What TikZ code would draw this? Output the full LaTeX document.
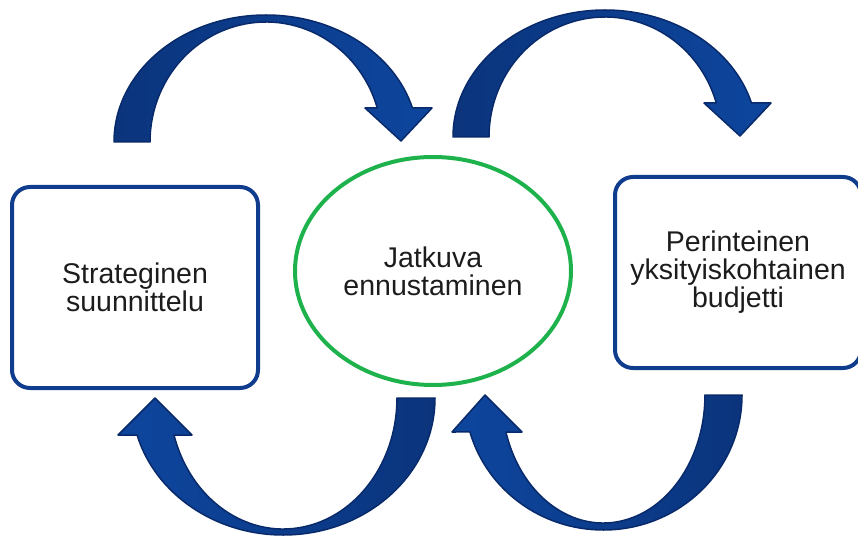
\documentclass[tikz,border=0pt]{standalone}
\usepackage{fontspec}
\setmainfont{Liberation Sans}
\usepackage{xcolor}
\usetikzlibrary{positioning,shapes.geometric}

\definecolor{sininen}{RGB}{16,60,142}
\definecolor{vihrea}{RGB}{30,178,76}
\definecolor{nuolitumma}{RGB}{11,52,124}
\definecolor{nuolikirkas}{RGB}{13,70,158}
\definecolor{reuna}{RGB}{9,42,106}
\definecolor{teksti}{RGB}{28,28,28}

\begin{document}
\begin{tikzpicture}[x=1pt,y=1pt,on grid,
        laatikko/.style={draw=sininen,line width=4pt,rounded corners=18pt,minimum width=246pt,inner sep=0pt,align=center,text=teksti,font=\fontsize{28.5}{28}\selectfont},
        soikio/.style={ellipse,draw=vihrea,line width=4pt,minimum width=276pt,minimum height=228pt,inner sep=0pt,align=center,text=teksti,font=\fontsize{28.5}{28}\selectfont},
        kaari/.style={draw=reuna,line width=1.5pt,line join=round}]
        \useasboundingbox (0,0) rectangle (858,-537);
        \node[soikio] (jatkuva) at (433,-271) {Jatkuva\\ennustaminen};
        \node[laatikko,minimum height=201pt] (strateginen) [left=298pt of jatkuva,yshift=-16.5pt] {Strateginen\\suunnittelu};
        \node[laatikko,minimum height=191pt] (perinteinen) [right=305pt of jatkuva,yshift=-1.5pt] {Perinteinen\\yksityiskohtainen\\budjetti};
        \path[kaari,left color=nuolitumma,right color=nuolikirkas]
                (114,-142) arc[start angle=180,end angle=15.53,x radius=152,y radius=127]
                -- (432,-108) -- (401,-141) -- (365,-108) -- (377.25,-108)
                arc[start angle=16.46,end angle=180,x radius=116,y radius=120] -- cycle;
        \path[kaari,left color=nuolitumma,right color=nuolikirkas]
                (453,-137) arc[start angle=180,end angle=15.53,x radius=152,y radius=127]
                -- (771,-103) -- (740,-136) -- (704,-103) -- (716.25,-103)
                arc[start angle=16.46,end angle=180,x radius=116,y radius=120] -- cycle;
        \path[kaari,left color=nuolikirkas,right color=nuolitumma]
                (435,-398) arc[start angle=0,end angle=-164.33,x radius=151.8,y radius=137]
                -- (118,-435) -- (155,-398) -- (192,-435) -- (174,-435)
                arc[start angle=-163.6,end angle=0,x radius=113.8,y radius=131] -- cycle;
        \path[kaari,left color=nuolikirkas,right color=nuolitumma]
                (742,-395) arc[start angle=0,end angle=-164.1,x radius=138.7,y radius=135]
                -- (452,-432) -- (485,-395) -- (522,-432) -- (505.9,-432)
                arc[start angle=-163.2,end angle=0,x radius=101.7,y radius=128] -- cycle;
\end{tikzpicture}
\end{document}
